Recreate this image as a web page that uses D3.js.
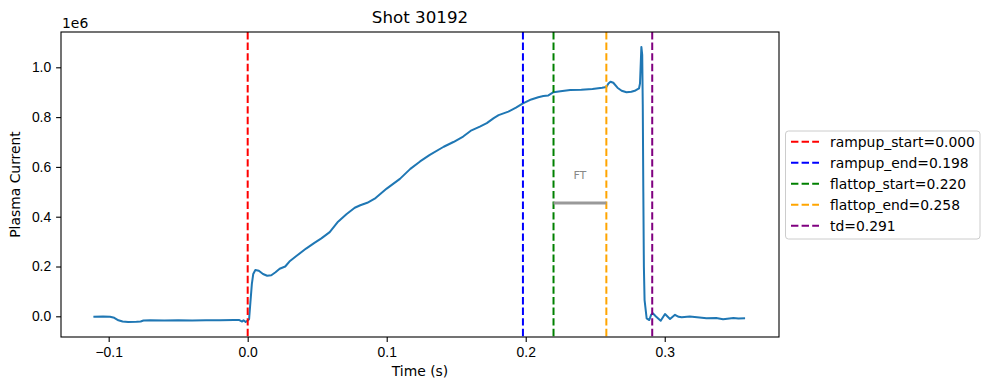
<!DOCTYPE html>
<html>
<head>
<meta charset="utf-8">
<script src="https://cdn.jsdelivr.net/npm/d3@7"></script>
<style>
  body { margin: 0; background: #fff; }
  svg { font-family: 'DejaVu Sans', sans-serif; }
  .axis text { font-size: 13.9px; fill: #000; }
  .axis line { stroke: #000; stroke-width: 1.1; }
</style>
</head>
<body>
<svg id="chart" width="989" height="390"></svg>
<script>
// plasma current trace (time in s, current in A)
var timeS = [-0.111, -0.104, -0.099, -0.096, -0.093, -0.090, -0.086, -0.080, -0.077, -0.075,
  -0.070, -0.060, -0.050, -0.040, -0.030, -0.020, -0.010, -0.006, -0.004, -0.003,
  -0.0015, 0.000, 0.001, 0.002, 0.003, 0.004, 0.0055, 0.008, 0.011, 0.014,
  0.017, 0.020, 0.023, 0.027, 0.030, 0.035, 0.042, 0.048, 0.053, 0.059,
  0.065, 0.071, 0.077, 0.081, 0.086, 0.092, 0.100, 0.1095, 0.117, 0.124,
  0.131, 0.141, 0.148, 0.155, 0.161, 0.167, 0.172, 0.177, 0.1805, 0.1875,
  0.193, 0.198, 0.204, 0.209, 0.2127, 0.2163, 0.220, 0.225, 0.232, 0.240,
  0.248, 0.255, 0.258, 0.2595, 0.261, 0.263, 0.266, 0.269, 0.2725, 0.276,
  0.279, 0.2815, 0.2822, 0.2832, 0.2838, 0.2842, 0.2846, 0.2850, 0.2855, 0.2870,
  0.2889, 0.2902, 0.2914, 0.2937, 0.2971, 0.3002, 0.3038, 0.3074, 0.3100, 0.3122,
  0.318, 0.325, 0.330, 0.337, 0.342, 0.3494, 0.353, 0.3578];
var currentA = [-2e3, -1e3, -2e3, -6e3, -16e3, -21e3, -23e3, -22e3, -21e3, -17e3,
  -16e3, -17e3, -16e3, -17e3, -16e3, -16e3, -15e3, -15e3, -21e3, -16e3,
  -23e3, -17e3, -12e3, 60e3, 130e3, 170e3, 186e3, 183e3, 170e3, 163e3,
  165e3, 177e3, 191e3, 200e3, 220e3, 242e3, 272e3, 295e3, 313e3, 338e3,
  380e3, 410e3, 436e3, 446e3, 456e3, 475e3, 513e3, 552e3, 592e3, 622e3,
  648e3, 681e3, 700e3, 722e3, 747e3, 762e3, 776e3, 796e3, 808e3, 822e3,
  838e3, 855e3, 871e3, 880e3, 885e3, 887e3, 900e3, 904e3, 909e3, 910e3,
  913e3, 918e3, 921e3, 935e3, 942e3, 938e3, 918e3, 906e3, 900e3, 902e3,
  907e3, 915e3, 935e3, 1082e3, 1050e3, 850e3, 500e3, 200e3, 65e3, -8e3,
  -15e3, 6e3, 12e3, -1e3, -18e3, 9e3, -11e3, 6e3, -2e3, -4e3,
  -1e3, -5e3, -8e3, -7e3, -12e3, -7e3, -9e3, -8e3];

// phase markers
var markerNames = ['rampup_start', 'rampup_end', 'flattop_start', 'flattop_end', 'td'];
var markerTimes = [0.000, 0.198, 0.220, 0.258, 0.291];
var markerColors = ['red', 'blue', 'green', 'orange', 'purple'];

// flattop bracket
var ftLevel = 0.455e6;
var ftLabelLevel = 0.55e6;

var xTicks = [-0.1, 0.0, 0.1, 0.2, 0.3];
var yTicks = [0, 0.2e6, 0.4e6, 0.6e6, 0.8e6, 1.0e6];

var svg = d3.select('#chart');
var plotLeft = 61, plotRight = 779, plotTop = 32, plotBottom = 337;

var scaleX = d3.scaleLinear().domain([-0.1343, 0.3822]).range([plotLeft, plotRight]);
var scaleY = d3.scaleLinear().domain([-0.0831e6, 1.1418e6]).range([plotBottom, plotTop]);

var axisX = d3.axisBottom(scaleX).tickValues(xTicks).tickSize(4.9).tickSizeOuter(0).tickPadding(4.9)
  .tickFormat(function(d) { return d3.format('.1f')(d).replace('-', '\u2212'); });
var axisY = d3.axisLeft(scaleY).tickValues(yTicks).tickSize(4.9).tickSizeOuter(0).tickPadding(4.9)
  .tickFormat(function(d) { return (d / 1e6).toFixed(1); });

svg.append('g').attr('class', 'axis').attr('transform', 'translate(0,' + plotBottom + ')').call(axisX)
  .select('.domain').remove();
svg.append('g').attr('class', 'axis').attr('transform', 'translate(' + plotLeft + ',0)').call(axisY)
  .select('.domain').remove();

var plot = svg.append('g');

// trace
var line = d3.line()
  .x(function(d, i) { return scaleX(timeS[i]); })
  .y(function(d, i) { return scaleY(currentA[i]); });
plot.append('path').datum(timeS)
  .attr('d', line)
  .attr('fill', 'none')
  .attr('stroke', '#1f77b4')
  .attr('stroke-width', 2)
  .attr('stroke-linejoin', 'round');

// vertical markers
markerTimes.forEach(function(t, i) {
  plot.append('line')
    .attr('x1', scaleX(t)).attr('x2', scaleX(t))
    .attr('y1', plotTop).attr('y2', plotBottom)
    .attr('stroke', markerColors[i])
    .attr('stroke-width', 2)
    .attr('stroke-dasharray', '7.4,3.2');
});

// FT bracket
plot.append('line')
  .attr('x1', scaleX(markerTimes[2])).attr('x2', scaleX(markerTimes[3]))
  .attr('y1', scaleY(ftLevel)).attr('y2', scaleY(ftLevel))
  .attr('stroke', '#999').attr('stroke-width', 2.8);
plot.append('text')
  .attr('x', scaleX((markerTimes[2] + markerTimes[3]) / 2))
  .attr('y', scaleY(ftLabelLevel))
  .attr('text-anchor', 'middle')
  .attr('font-size', '11.1px')
  .attr('fill', '#888')
  .text('FT');

// frame
svg.append('rect')
  .attr('x', plotLeft).attr('y', plotTop)
  .attr('width', plotRight - plotLeft).attr('height', plotBottom - plotTop)
  .attr('fill', 'none').attr('stroke', '#000').attr('stroke-width', 1.1);

// titles
svg.append('text').attr('x', (plotLeft + plotRight) / 2).attr('y', 23)
  .attr('text-anchor', 'middle').attr('font-size', '16.7px').text('Shot 30192');
svg.append('text').attr('x', plotLeft + 1).attr('y', 28)
  .attr('font-size', '13.9px').text('1e6');
svg.append('text').attr('x', (plotLeft + plotRight) / 2).attr('y', 376)
  .attr('text-anchor', 'middle').attr('font-size', '13.9px').text('Time (s)');
svg.append('text').attr('transform', 'translate(20,' + ((plotTop + plotBottom) / 2) + ')rotate(-90)')
  .attr('text-anchor', 'middle').attr('font-size', '13.9px').text('Plasma Current');

// legend
var legend = svg.append('g').attr('transform', 'translate(785.5,131)');
legend.append('rect')
  .attr('width', 194.5).attr('height', 108).attr('rx', 3)
  .attr('fill', '#fff').attr('fill-opacity', 0.8)
  .attr('stroke', '#ccc').attr('stroke-width', 1);
markerNames.forEach(function(name, i) {
  var y = 10.7 + i * 21;
  legend.append('line')
    .attr('x1', 5.5).attr('x2', 33.5).attr('y1', y).attr('y2', y)
    .attr('stroke', markerColors[i]).attr('stroke-width', 2)
    .attr('stroke-dasharray', '7.4,3.2');
  legend.append('text')
    .attr('x', 44.5).attr('y', y + 5)
    .attr('font-size', '13.9px')
    .text(name + '=' + markerTimes[i].toFixed(3));
});
</script>
</body>
</html>
